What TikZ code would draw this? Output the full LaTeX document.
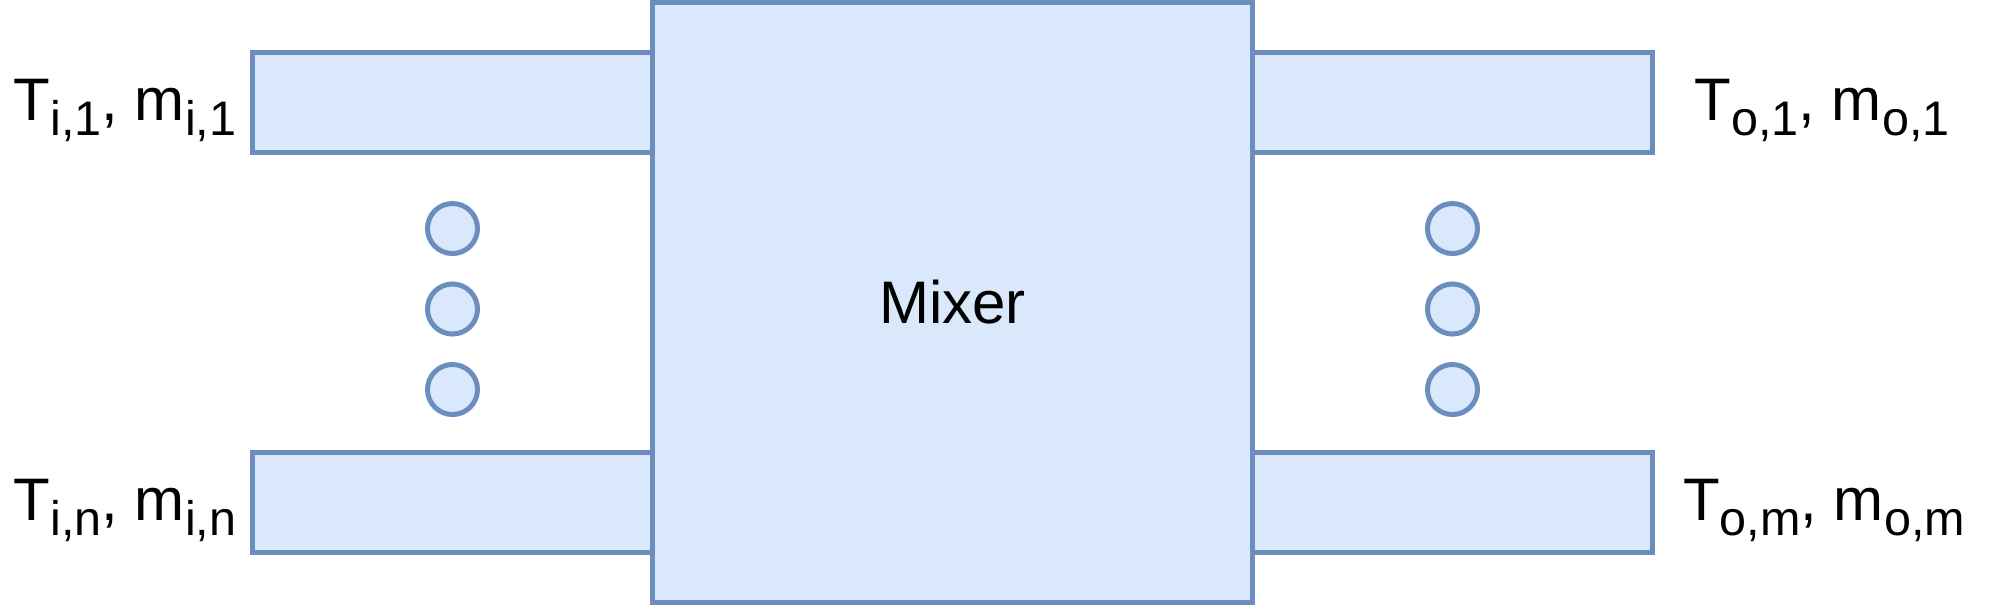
\documentclass[tikz,border=0pt]{standalone}
\usepackage{fontspec}
\setmainfont{Liberation Sans}
\usepackage{tikz}
\usepackage{xcolor}
\definecolor{mixfill}{HTML}{DAE8FC}
\definecolor{mixline}{HTML}{6C8EBF}
\newcommand\flowsub[1]{\raisebox{-4.27pt}{\fontsize{13.8}{16}\selectfont #1}}

\begin{document}
\begin{tikzpicture}[x=0.01cm,y=-0.01cm,line width=1.42pt,font=\fontsize{17.07}{20}\selectfont,
  part/.style={draw=mixline,fill=mixfill,inner sep=0pt,outer sep=0pt},
  pipe/.style={part,minimum width=4cm,minimum height=1cm},
  dot/.style={part,circle,minimum size=0.5cm}]
\useasboundingbox (0,0) rectangle (2005,605);
\node[pipe] (in1) at (452.5,102.5) {};
\node[pipe] (inn) at (452.5,502.5) {};
\node[pipe] (out1) at (1452.5,102.5) {};
\node[pipe] (outm) at (1452.5,502.5) {};
\node[part,minimum width=6cm,minimum height=6cm] (mixer) at (952.5,302.5) {Mixer};
\node[dot] (din1) at (452.5,228.5) {};
\node[dot] (din2) at (452.5,309) {};
\node[dot] (din3) at (452.5,389.5) {};
\node[dot] (dout1) at (1452.5,228.5) {};
\node[dot] (dout2) at (1452.5,309) {};
\node[dot] (dout3) at (1452.5,389.5) {};
\node[anchor=base] (lin1) at (125,120) {T\flowsub{i,1}, m\flowsub{i,1}};
\node[anchor=base] (linn) at (125,520) {T\flowsub{i,n}, m\flowsub{i,n}};
\node[anchor=base] (lout1) at (1822,120) {T\flowsub{o,1}, m\flowsub{o,1}};
\node[anchor=base] (loutm) at (1824,520) {T\flowsub{o,m}, m\flowsub{o,m}};
\end{tikzpicture}
\end{document}
